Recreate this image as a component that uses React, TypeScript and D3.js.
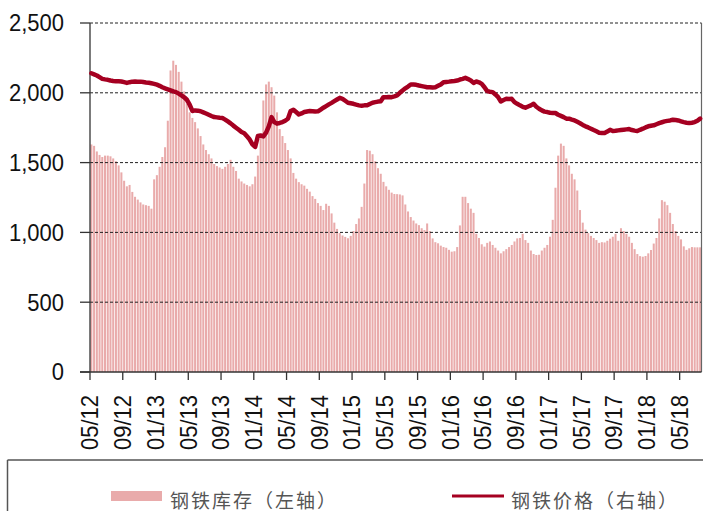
import React from "react";
import * as d3 from "d3";

// 10-day periods from early May 2012 to end of July 2018
const inventory: number[] = [
  1630, 1620, 1580, 1555, 1540, 1550, 1550, 1545, 1530, 1510,
  1480, 1430, 1370, 1330, 1340, 1290, 1255, 1235, 1215, 1200,
  1195, 1190, 1170, 1380, 1410, 1470, 1540, 1610, 1800, 2160,
  2230, 2200, 2150, 2080, 2010, 1920, 1860, 1820, 1790, 1745,
  1690, 1630, 1590, 1560, 1530, 1490, 1475, 1465, 1455, 1470,
  1490, 1520, 1470, 1440, 1385, 1365, 1350, 1340, 1330, 1345,
  1400, 1550, 1700, 1945, 2060, 2080, 2040, 1980, 1860, 1740,
  1690, 1640, 1590, 1530, 1426, 1385, 1360, 1345, 1335, 1312,
  1292, 1260, 1240, 1210, 1190, 1160, 1205, 1190, 1136, 1070,
  1025, 995, 978, 968, 958, 975, 1010, 1060, 1100, 1183,
  1350, 1590, 1585, 1560, 1510, 1460, 1420, 1362, 1330, 1305,
  1285, 1275, 1274, 1272, 1265, 1200, 1150, 1110, 1085, 1064,
  1052, 1030, 1017, 1064, 1010, 957, 930, 922, 905, 895,
  890, 875, 862, 865, 895, 1050, 1255, 1255, 1210, 1170,
  1140, 990, 960, 915, 898, 925, 935, 910, 890, 870,
  850, 865, 880, 895, 910, 935, 957, 960, 990, 945,
  925, 870, 845, 838, 840, 870, 890, 910, 969, 1090,
  1320, 1550, 1636, 1620, 1530, 1480, 1420, 1380, 1300, 1160,
  1070, 1020, 995, 975, 960, 945, 925, 930, 928, 940,
  955, 969, 990, 940, 1030, 1010, 990, 969, 925, 880,
  845, 830, 826, 831, 850, 874, 920, 960, 1100, 1231,
  1220, 1195, 1140, 1060, 1010, 975, 950, 900, 875, 886,
  895, 893, 893, 893,
];

// steel price (right axis; axis labels not shown in the picture, values in left-axis-equivalent units)
const price: number[] = [
  2140, 2132, 2124, 2112, 2100, 2096, 2093, 2088, 2085, 2083,
  2082, 2081, 2076, 2071, 2076, 2080, 2081, 2080, 2080, 2077,
  2074, 2072, 2068, 2064, 2058, 2050, 2040, 2032, 2025, 2018,
  2010, 2005, 1994, 1981, 1968, 1950, 1915, 1870, 1874, 1872,
  1868, 1860, 1852, 1843, 1834, 1826, 1824, 1821, 1819, 1808,
  1795, 1781, 1765, 1750, 1735, 1719, 1710, 1688, 1665, 1630,
  1612, 1690, 1694, 1688, 1715, 1760, 1826, 1790, 1779, 1784,
  1790, 1800, 1814, 1870, 1879, 1862, 1845, 1852, 1862, 1866,
  1869, 1868, 1866, 1867, 1880, 1893, 1905, 1917, 1928, 1940,
  1952, 1964, 1957, 1943, 1929, 1925, 1921, 1915, 1910, 1908,
  1910, 1910, 1920, 1929, 1933, 1937, 1940, 1969, 1969, 1970,
  1969, 1974, 1981, 2000, 2017, 2032, 2045, 2060, 2059, 2057,
  2052, 2048, 2044, 2040, 2040, 2038, 2040, 2050, 2060, 2076,
  2078, 2080, 2083, 2085, 2088, 2095, 2100, 2107, 2098, 2088,
  2071, 2081, 2075, 2064, 2040, 2012, 2008, 2005, 1988, 1969,
  1938, 1948, 1957, 1956, 1957, 1933, 1921, 1910, 1900, 1893,
  1902, 1910, 1921, 1900, 1886, 1874, 1865, 1862, 1857, 1856,
  1855, 1843, 1835, 1826, 1815, 1815, 1808, 1802, 1792, 1782,
  1770, 1760, 1752, 1743, 1733, 1724, 1714, 1712, 1712, 1722,
  1735, 1726, 1728, 1731, 1734, 1736, 1738, 1740, 1733, 1729,
  1726, 1735, 1743, 1752, 1760, 1764, 1767, 1775, 1783, 1789,
  1795, 1799, 1802, 1807, 1805, 1802, 1796, 1790, 1786, 1783,
  1786, 1790, 1800, 1815,
];

const xTickLabels: string[] = [
  "05/12", "09/12", "01/13", "05/13", "09/13", "01/14", "05/14", "09/14",
  "01/15", "05/15", "09/15", "01/16", "05/16", "09/16", "01/17", "05/17",
  "09/17", "01/18", "05/18",
];
const yTicks: number[] = [0, 500, 1000, 1500, 2000, 2500];
const legendLabels: string[] = ["钢铁库存（左轴）", "钢铁价格（右轴）"];

const W = 703;
const H = 511;
const left = 90;
const right = 701.5;
const top = 23;
const bottom = 372;

export default function App() {
  const n = inventory.length;
  const x = d3.scaleLinear().domain([0, n]).range([left, right]);
  const y = d3.scaleLinear().domain([0, 2500]).range([bottom, top]);
  const yRight = d3.scaleLinear().domain([0, 2500]).range([bottom, top]);
  const step = x(1) - x(0);
  const bw = step * 0.74;

  const line = d3
    .line<number>()
    .x((_, i) => x(i + 0.5))
    .y((d) => yRight(d))
    .curve(d3.curveLinear);

  const fontNum = "'Liberation Sans', Arial, sans-serif";
  const fontCJK = "'Noto Sans CJK SC', sans-serif";

  return (
    <svg
      width={W}
      height={H}
      style={{ position: "absolute", left: 0, top: 0, background: "#fff" }}
    >
      <g>
        {inventory.map((v, i) => (
          <rect
            key={i}
            x={x(i) + (step - bw) / 2}
            y={y(v)}
            width={bw}
            height={y(0) - y(v)}
            fill="#E9ABAB"
          />
        ))}
      </g>
      <g>
        {yTicks
          .filter((t) => t > 0)
          .map((t) => (
            <line
              key={t}
              x1={left}
              x2={right}
              y1={y(t)}
              y2={y(t)}
              stroke="#222"
              strokeWidth={1}
              strokeDasharray="3,2"
            />
          ))}
      </g>
      <line x1={left} x2={left} y1={top} y2={bottom} stroke="#333" strokeWidth={1.3} />
      <line x1={right} x2={right} y1={top} y2={bottom} stroke="#666" strokeWidth={1.2} />
      <line x1={80} x2={right} y1={bottom} y2={bottom} stroke="#333" strokeWidth={1.3} />
      {yTicks.map((t) => (
        <g key={t}>
          <line x1={80} x2={left} y1={y(t)} y2={y(t)} stroke="#333" strokeWidth={1.3} />
          <text
            transform={`translate(64,${y(t)}) scale(1,1.08)`}
            textAnchor="end"
            dominantBaseline="central"
            fontFamily={fontNum}
            fontSize={22}
            fill="#111"
          >
            {d3.format(",")(t)}
          </text>
        </g>
      ))}
      {xTickLabels.map((lab, k) => {
        const tx = x(k * 12);
        return (
          <g key={lab}>
            <line x1={tx} x2={tx} y1={bottom} y2={380} stroke="#333" strokeWidth={1.3} />
            <text
              transform={`translate(${tx},395) rotate(-90) scale(1,1.08)`}
              textAnchor="end"
              dominantBaseline="central"
              fontFamily={fontNum}
              fontSize={22}
              fill="#111"
            >
              {lab}
            </text>
          </g>
        );
      })}
      <path
        d={line(price) || ""}
        fill="none"
        stroke="#A50021"
        strokeWidth={4.5}
        strokeLinejoin="round"
        strokeLinecap="round"
      />
      <line x1={7.5} x2={W} y1={460} y2={460} stroke="#555" strokeWidth={1.5} />
      <line x1={7.5} x2={7.5} y1={460} y2={H} stroke="#555" strokeWidth={1.5} />
      <rect x={111} y={491} width={51} height={10} fill="#E9ABAB" />
      <text
        x={170}
        y={499}
        dominantBaseline="central"
        fontFamily={fontCJK}
        fontSize={19}
        letterSpacing={2}
        fill="#555"
      >
        {legendLabels[0]}
      </text>
      <line x1={452} x2={504} y1={496} y2={496} stroke="#A50021" strokeWidth={3} />
      <text
        x={511}
        y={499}
        dominantBaseline="central"
        fontFamily={fontCJK}
        fontSize={19}
        letterSpacing={2}
        fill="#555"
      >
        {legendLabels[1]}
      </text>
    </svg>
  );
}
